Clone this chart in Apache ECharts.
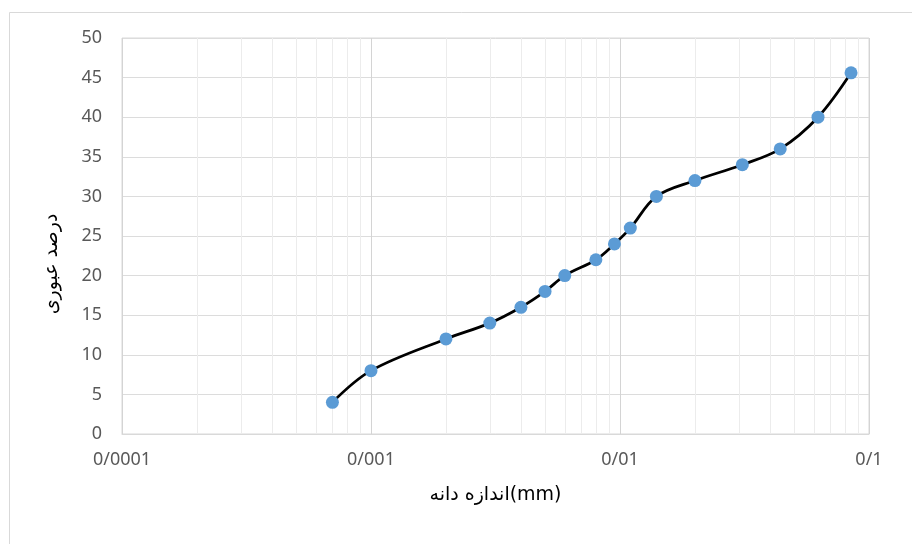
<!DOCTYPE html>
<html>
<head>
<meta charset="utf-8">
<script src="https://cdn.jsdelivr.net/npm/echarts@6/dist/echarts.min.js"></script>
<style>
  html, body { margin: 0; padding: 0; background: #ffffff; }
  #chart { width: 912px; height: 544px; }
</style>
</head>
<body>
<div id="chart"></div>
<script>
// Grain size (mm) against cumulative percent passing
const grainSize = [0.0007, 0.001, 0.002, 0.003, 0.004, 0.005, 0.006, 0.008, 0.0095, 0.011, 0.014, 0.02, 0.031, 0.044, 0.0624, 0.0847];
const percentPassing = [4, 8, 12, 14, 16, 18, 20, 22, 24, 26, 30, 32, 34, 36, 40, 45.6];

// Decade tick labels, written with "/" as the decimal separator
const xTickValues = [0.0001, 0.001, 0.01, 0.1];
const xTickLabels = ['0/0001', '0/001', '0/01', '0/1'];

// Intermediate log gridlines (2..9 within each decade)
const minorGridValues = [];
[0.0001, 0.001, 0.01].forEach(function (d) {
  for (let k = 2; k <= 9; k++) minorGridValues.push(+(d * k).toPrecision(6));
});

const xAxisTitle = 'اندازه دانه(mm)';
const yAxisTitle = 'درصد عبوری';

const chart = echarts.init(document.getElementById('chart'), null, { renderer: 'canvas' });

const option = {
  backgroundColor: '#ffffff',
  animation: false,
  graphic: [{
    type: 'rect',
    shape: { x: 9.5, y: 12.5, width: 920, height: 560 },
    style: { fill: 'none', stroke: '#d9d9d9', lineWidth: 1 },
    silent: true,
    z: -10
  }],
  grid: {
    left: 122, right: 43, top: 38, bottom: 110,
    show: true, borderColor: '#d9d9d9', borderWidth: 1
  },
  xAxis: {
    type: 'log',
    logBase: 10,
    min: 0.0001,
    max: 0.1,
    name: xAxisTitle,
    nameLocation: 'middle',
    nameGap: 52,
    nameTextStyle: { fontFamily: 'DejaVu Sans', fontSize: 19, color: '#000000' },
    axisLine: { show: true, lineStyle: { color: '#d9d9d9', width: 1 } },
    axisTick: { show: false },
    axisLabel: {
      fontFamily: 'Noto Sans', fontSize: 18, color: '#595959', margin: 17,
      formatter: function (v) {
        for (let i = 0; i < xTickValues.length; i++) {
          if (Math.abs(Math.log10(v) - Math.log10(xTickValues[i])) < 1e-6) return xTickLabels[i];
        }
        return '';
      }
    },
    splitLine: { show: true, lineStyle: { color: '#d4d4d4', width: 1 } }
  },
  yAxis: {
    type: 'value',
    min: 0,
    max: 50,
    interval: 5,
    name: yAxisTitle,
    nameLocation: 'middle',
    nameGap: 60,
    nameTextStyle: {
      fontFamily: 'DejaVu Sans', fontSize: 19, color: '#000000',
      padding: [0, 56, 0, 0]
    },
    axisLine: { show: false },
    axisTick: { show: false },
    axisLabel: { fontFamily: 'Noto Sans', fontSize: 18, color: '#595959', margin: 20 },
    splitLine: { show: true, lineStyle: { color: '#dcdcdc', width: 1 } }
  },
  series: [
    {
      // vertical minor gridlines at 2..9 of each decade
      type: 'custom',
      silent: true,
      z: 1,
      data: minorGridValues.map(function (v) { return [v]; }),
      renderItem: function (params, api) {
        const top = api.coord([api.value(0), 50]);
        const bottom = api.coord([api.value(0), 0]);
        return {
          type: 'line',
          shape: { x1: Math.round(top[0]) + 0.5, y1: top[1], x2: Math.round(bottom[0]) + 0.5, y2: bottom[1] },
          style: { stroke: '#ececec', lineWidth: 1 }
        };
      },
      encode: { x: 0 }
    },
    {
      type: 'line',
      data: grainSize.map(function (x, i) { return [x, percentPassing[i]]; }),
      smooth: 0.35,
      symbol: 'circle',
      symbolSize: 13,
      showAllSymbol: true,
      lineStyle: { color: '#000000', width: 2.75 },
      itemStyle: { color: '#5b9bd5', borderColor: '#5b9bd5', borderWidth: 0 },
      z: 3
    }
  ]
};

chart.setOption(option);
</script>
</body>
</html>
